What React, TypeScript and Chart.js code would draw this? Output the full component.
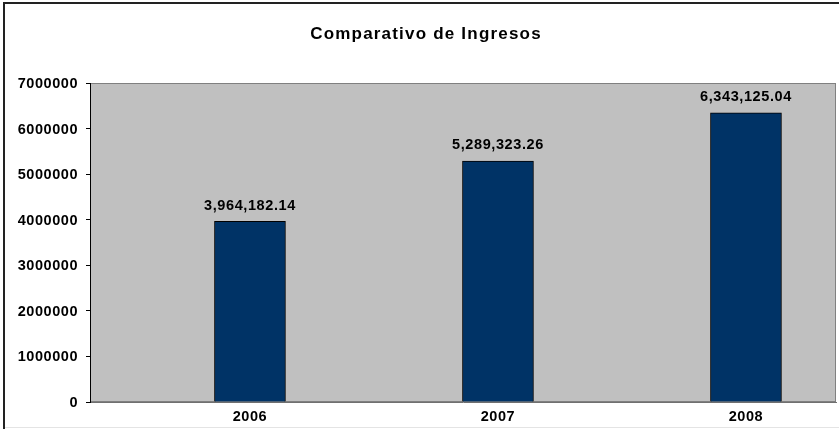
import React, { useEffect, useRef } from 'react';
import { Chart, registerables } from 'chart.js';

Chart.register(...registerables);

const chartTitle = 'Comparativo de Ingresos';
const years = [2006, 2007, 2008];
const ingresos = [3964182.14, 5289323.26, 6343125.04];
const yTickValues = [0, 1000000, 2000000, 3000000, 4000000, 5000000, 6000000, 7000000];

const FONT = '"Liberation Sans", Arial, sans-serif';

const fmt = (v: number) =>
  v.toLocaleString('en-US', { minimumFractionDigits: 2, maximumFractionDigits: 2 });

export default function App() {
  const ref = useRef<HTMLCanvasElement>(null);

  useEffect(() => {
    const canvas = ref.current!;
    const framePlugin = {
      id: 'frame',
      beforeDraw(chart: any) {
        const { ctx, chartArea: a } = chart;
        ctx.save();
        ctx.fillStyle = '#ffffff';
        ctx.fillRect(0, 0, chart.width, chart.height);
        ctx.fillStyle = '#C0C0C0';
        ctx.fillRect(a.left, a.top, a.right - a.left, a.bottom - a.top);
        ctx.strokeStyle = '#808080';
        ctx.lineWidth = 1;
        ctx.strokeRect(a.left + 0.5, a.top + 0.5, a.right - a.left - 1, a.bottom - a.top - 1);
        // outer frame
        ctx.fillStyle = '#222222';
        ctx.fillRect(3, 2, chart.width - 3, 2);
        ctx.fillRect(3, 2, 2, chart.height - 2);
        ctx.fillStyle = '#e4e4e4';
        ctx.fillRect(5, 427, chart.width - 5, 1);
        // title
        ctx.letterSpacing = '1.2px';
        ctx.font = `bold 17px ${FONT}`;
        ctx.fillStyle = '#000';
        ctx.textAlign = 'center';
        ctx.textBaseline = 'alphabetic';
        ctx.fillText(chartTitle, 426, 38.5);
        ctx.restore();
        ctx.letterSpacing = '0.55px';
      },
      afterDatasetsDraw(chart: any) {
        const { ctx } = chart;
        const meta = chart.getDatasetMeta(0);
        ctx.save();
        ctx.letterSpacing = '0.6px';
        ctx.font = `bold 14.5px ${FONT}`;
        ctx.fillStyle = '#000';
        ctx.textAlign = 'center';
        ctx.textBaseline = 'alphabetic';
        meta.data.forEach((bar: any, i: number) => {
          ctx.fillText(fmt(ingresos[i]), bar.x, bar.y - 11.5);
        });
        ctx.restore();
      },
    };

    const chart = new Chart(canvas, {
      type: 'bar',
      data: {
        datasets: [
          {
            label: 'Ingresos',
            data: years.map((y, i) => ({ x: y, y: ingresos[i] })),
            backgroundColor: '#003366',
            borderColor: '#000000',
            borderWidth: 1,
            barThickness: 71,
          },
        ],
      },
      options: {
        responsive: false,
        animation: false,
        layout: { padding: { top: 83, right: 3, left: 0, bottom: 0 } },
        plugins: {
          legend: { display: false },
          title: { display: false },
          tooltip: { enabled: false },
        },
        scales: {
          x: {
            type: 'linear',
            offset: false,
            min: 2005.355,
            max: 2008.363,
            grid: { display: false },
            border: { display: true, color: '#707070', width: 1 },
            afterBuildTicks: (scale: any) => {
              scale.ticks = years.map((v) => ({ value: v }));
            },
            afterFit: (scale: any) => {
              scale.height = 27;
            },
            ticks: {
              autoSkip: false,
              maxRotation: 0,
              padding: -2,
              color: '#000',
              font: { family: FONT, size: 14.5, weight: 'bold' },
              callback: (v: any) => String(v),
            },
          },
          y: {
            min: 0,
            max: 7000000,
            afterBuildTicks: (scale: any) => {
              scale.ticks = yTickValues.map((v) => ({ value: v }));
            },
            afterFit: (scale: any) => {
              scale.width = 90;
            },
            grid: {
              drawOnChartArea: false,
              drawTicks: true,
              tickLength: 4,
              color: '#000',
            },
            border: { display: true, color: '#000', width: 1 },
            ticks: {
              padding: 8,
              labelOffset: 1,
              color: '#000',
              font: { family: FONT, size: 14.5, weight: 'bold' },
              callback: (v: any) => String(v),
            },
          },
        },
      },
      plugins: [framePlugin],
    } as any);

    return () => chart.destroy();
  }, []);

  return (
    <div style={{ position: 'fixed', left: 0, top: 0, width: 839, height: 429 }}>
      <canvas ref={ref} width={839} height={429} style={{ width: 839, height: 429, display: 'block' }} />
    </div>
  );
}
